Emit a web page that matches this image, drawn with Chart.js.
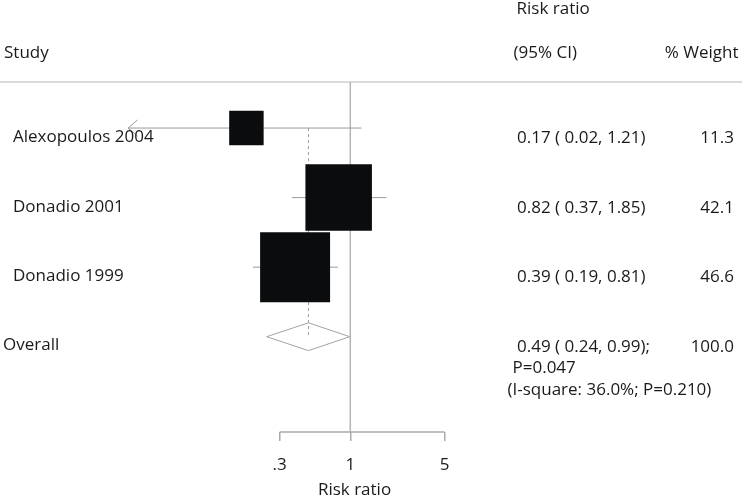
<!DOCTYPE html>
<html>
<head>
<meta charset="utf-8">
<script src="https://cdn.jsdelivr.net/npm/chart.js@4"></script>
<style>
  html, body { margin: 0; padding: 0; background: #fff; }
  #wrap { position: relative; width: 742px; height: 499px; overflow: hidden;
          font-family: "Open Sans", sans-serif; font-size: 17px; line-height: 20px; color: #1a1a1a; }
  #wrap canvas { position: absolute; left: 0; top: 0; }
  .t { position: absolute; white-space: pre; }
</style>
</head>
<body>
<div id="wrap"><canvas id="chart" width="742" height="499"></canvas></div>
<script>
// study data
const studies = ["Alexopoulos 2004", "Donadio 2001", "Donadio 1999"];
const riskRatio = [0.17, 0.82, 0.39];
const ciLower = [0.02, 0.37, 0.19];
const ciUpper = [1.21, 1.85, 0.81];
const weights = [11.3, 42.1, 46.6];

// pooled estimate
const overallLabel = "Overall";
const overallRR = 0.49;
const overallLower = 0.24;
const overallUpper = 0.99;
const overallWeight = 100.0;
const overallP = "0.047";
const iSquare = "36.0%";
const heterogeneityP = "0.210";

// x axis
const tickValues = [0.3, 1, 5];
const tickLabels = [".3", "1", "5"];
const axisTitle = "Risk ratio";

const xMin = 0.022558, xMax = 51.16;
const yMin = 0.338, yMax = 5.37;
const boxScale = 10.25;     // side of a box per sqrt(weight)
const diamondHalf = 0.2;    // in row units

const rows = studies.map((s, i) => i + 1);
const overallRow = studies.length + 1;
const fmt = v => v.toFixed(2);

const ciSets = studies.map((s, i) => ({
    data: [{ x: ciLower[i], y: rows[i] }, { x: ciUpper[i], y: rows[i] }],
    showLine: true, borderColor: "#9a9a9a", borderWidth: 1, pointRadius: 0, order: 3,
}));

const datasets = [
    {   // study boxes, area ~ weight
        data: riskRatio.map((v, i) => ({ x: v, y: rows[i] })),
        pointStyle: "rect",
        pointRadius: weights.map(w => boxScale * Math.sqrt(w) / Math.SQRT2),
        pointBackgroundColor: "#0b0c0e", pointBorderColor: "#0b0c0e", pointBorderWidth: 0,
        order: 0,
    },
    {   // pooled diamond
        data: [
            { x: overallLower, y: overallRow },
            { x: overallRR, y: overallRow - diamondHalf },
            { x: overallUpper, y: overallRow },
            { x: overallRR, y: overallRow + diamondHalf },
            { x: overallLower, y: overallRow },
        ],
        showLine: true, borderColor: "#a3a3a3", borderWidth: 1, pointRadius: 0, order: 1,
    },
    ...ciSets,
    {   // line of no effect
        data: [{ x: 1, y: yMin }, { x: 1, y: yMax }],
        showLine: true, borderColor: "#b5b5b5", borderWidth: 1.5, pointRadius: 0, order: 4,
    },
    {   // pooled estimate, dashed
        data: [{ x: overallRR, y: rows[0] }, { x: overallRR, y: overallRow }],
        showLine: true, borderColor: "#a0a0a0", borderWidth: 1, borderDash: [3, 3], pointRadius: 0, order: 5,
    },
];

const decor = {
    id: "decor",
    beforeDatasetsDraw(chart) {
        const { ctx, chartArea, width } = chart;
        const xs = chart.scales.x;
        ctx.save();
        ctx.lineWidth = 1.5;
        ctx.strokeStyle = "#cfcfcf";
        ctx.beginPath();
        ctx.moveTo(0, chartArea.top);
        ctx.lineTo(width, chartArea.top);
        ctx.stroke();
        ctx.strokeStyle = "#aaaaaa";
        ctx.beginPath();
        ctx.moveTo(xs.getPixelForValue(tickValues[0]), chartArea.bottom);
        ctx.lineTo(xs.getPixelForValue(tickValues[tickValues.length - 1]), chartArea.bottom);
        ctx.stroke();
        ctx.restore();
    },
    afterDatasetsDraw(chart) {
        // arrow where a CI runs off the left of the scale
        const { ctx, chartArea } = chart;
        const xs = chart.scales.x, ys = chart.scales.y;
        ctx.save();
        ctx.strokeStyle = "#9a9a9a";
        ctx.lineWidth = 1;
        ciLower.forEach((lo, i) => {
            if (lo >= xs.min) return;
            const x0 = chartArea.left, y0 = ys.getPixelForValue(rows[i]);
            ctx.beginPath();
            ctx.moveTo(x0 + 9.5, y0 - 8);
            ctx.lineTo(x0, y0);
            ctx.lineTo(x0 + 9.5, y0 + 8);
            ctx.stroke();
        });
        ctx.restore();
    },
};

const chart = new Chart(document.getElementById("chart"), {
    type: "scatter",
    data: { datasets },
    plugins: [decor],
    options: {
        responsive: false,
        animation: false,
        devicePixelRatio: 1,
        layout: { padding: { left: 128, right: 161, top: 82, bottom: 0 } },
        plugins: { legend: { display: false }, tooltip: { enabled: false } },
        scales: {
            x: {
                type: "logarithmic",
                position: "bottom",
                min: xMin, max: xMax,
                afterBuildTicks: scale => { scale.ticks = tickValues.map(v => ({ value: v })); },
                ticks: {
                    callback: v => tickLabels[tickValues.indexOf(v)],
                    autoSkip: false, maxRotation: 0, padding: 13.8,
                    color: "#1a1a1a", font: { family: "Open Sans", size: 17 },
                },
                grid: { display: true, drawOnChartArea: false, drawTicks: true, tickLength: 9,
                        color: "#aaaaaa", lineWidth: 1.5 },
                border: { display: false },
                title: { display: true, text: axisTitle, color: "#1a1a1a",
                         font: { family: "Open Sans", size: 17, lineHeight: 1 },
                         padding: { top: -7, bottom: 0 } },
            },
            y: { type: "linear", display: false, reverse: true, min: yMin, max: yMax },
        },
    },
});

// table text
const wrap = document.getElementById("wrap");
function put(str, left, top, right) {
    const d = document.createElement("div");
    d.className = "t";
    d.textContent = str;
    d.style.top = top + "px";
    if (right != null) d.style.right = right + "px"; else d.style.left = left + "px";
    wrap.appendChild(d);
}
const ys = chart.scales.y;
put("Risk ratio", 516.5, -2.2);
put("Study", 4, 41.8);
put("(95% CI)", 513.5, 41.8);
put("% Weight", null, 41.8, 3.5);
studies.forEach((s, i) => {
    const y = ys.getPixelForValue(rows[i]);
    put(s, 13, y - 2);
    put(`${fmt(riskRatio[i])} ( ${fmt(ciLower[i])}, ${fmt(ciUpper[i])})`, 517, y - 1);
    put(weights[i].toFixed(1), null, y - 1, 8);
});
const yo = ys.getPixelForValue(overallRow);
put(overallLabel, 3, yo - 2.5);
put(`${fmt(overallRR)} ( ${fmt(overallLower)}, ${fmt(overallUpper)});`, 517, yo - 1);
put(overallWeight.toFixed(1), null, yo - 1, 8);
put(`P=${overallP}`, 512.5, yo + 20.5);
put(`(I-square: ${iSquare}; P=${heterogeneityP})`, 507.5, yo + 42);
</script>
</body>
</html>
